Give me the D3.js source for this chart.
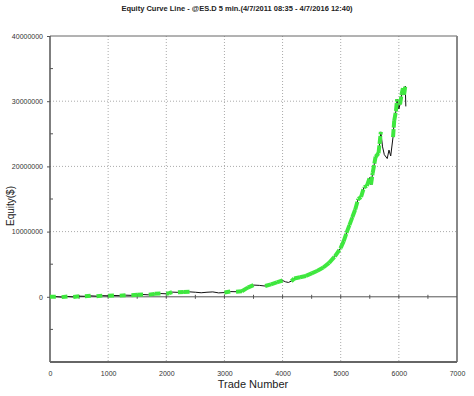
<!DOCTYPE html>
<html>
<head>
<meta charset="utf-8">
<script src="https://cdn.jsdelivr.net/npm/d3@7"></script>
<style>
body{margin:0;background:#fff}
text{font-family:Arial,"Liberation Sans",sans-serif}
</style>
</head>
<body>
<svg width="474" height="396"></svg>
<script>
var titleText = 'Equity Curve Line - @ES.D 5 min.(4/7/2011 08:35 - 4/7/2016 12:40)'
var xLabel = 'Trade Number'
var yLabel = 'Equity($)'

// trade number and equity (millions of $)
var trades = [0,100,200,300,400,500,600,700,800,900,1000,1100,1200,1300,1400,1500,1600,1700,1800,1900,
  2000,2050,2100,2200,2300,2400,2500,2600,2700,2800,2900,3000,3100,3200,3300,3400,3500,3600,3700,3800,3900,
  4000,4050,4100,4150,4200,4300,4400,4500,4600,4700,4800,4900,5000,5050,5100,5150,5200,5250,5300,5350,
  5400,5450,5500,5520,5550,5600,5650,5690,5720,5750,5800,5830,5860,5900,5920,5950,5970,6000,6020,6050,
  6070,6090,6110,6120]
var equity = [0,0.02,-0.05,0.05,-0.02,0.1,0.08,0.15,0.1,0.18,0.15,0.2,0.18,0.25,0.22,0.3,0.35,0.3,0.45,0.5,
  0.46,0.55,0.72,0.68,0.72,0.76,0.7,0.62,0.7,0.75,0.6,0.65,0.8,0.78,0.85,1.4,1.8,1.75,1.65,1.9,2.2,
  2.5,2.3,2.2,2.4,2.8,3.0,3.2,3.6,4.0,4.5,5.2,6.2,7.5,8.5,9.8,11.0,12.2,13.4,15.0,15.3,
  16.8,17.0,18.3,17.2,19.0,21.5,22.0,25.3,23.0,21.8,21.2,22.5,21.6,24.5,27.0,28.5,30.3,28.8,29.5,31.2,
  32.0,31.0,32.3,29.2]

var yTicks = [0,10000000,20000000,30000000,40000000]
var xTicks = [0,1000,2000,3000,4000,5000,6000,7000]

var svg = d3.select('svg')
var pl = 50, pr = 457, pt = 36, pb = 362

var x = d3.scaleLinear().domain([0,7000]).range([pl,pr])
var y = d3.scaleLinear().domain([-10000000,40000000]).range([pb,pt])

var data = trades.map(function(t,i){ return {t:t, v:equity[i]*1e6} })

// grid
svg.append('g').selectAll('line').data(xTicks.slice(1,-1)).enter().append('line')
  .attr('x1',function(d){return x(d)}).attr('x2',function(d){return x(d)})
  .attr('y1',pt).attr('y2',pb)
  .attr('stroke','#aaa').attr('stroke-dasharray','1,2')
svg.append('g').selectAll('line').data([10000000,20000000,30000000]).enter().append('line')
  .attr('y1',function(d){return y(d)}).attr('y2',function(d){return y(d)})
  .attr('x1',pl).attr('x2',pr)
  .attr('stroke','#aaa').attr('stroke-dasharray','1,2')

// frame
svg.append('line').attr('x1',pl).attr('x2',pr).attr('y1',pt).attr('y2',pt).attr('stroke','#666')
svg.append('line').attr('x1',pr).attr('x2',pr).attr('y1',pt).attr('y2',pb).attr('stroke','#888').attr('stroke-width',2)
svg.append('line').attr('x1',pl).attr('x2',pl).attr('y1',pt).attr('y2',pb)
  .attr('stroke','#555').attr('stroke-width',1.5)
svg.append('line').attr('x1',pl).attr('x2',pr).attr('y1',pb).attr('y2',pb)
  .attr('stroke','#666').attr('stroke-width',2)

// y axis
var yAxis = svg.append('g').attr('transform','translate('+pl+',0)')
  .call(d3.axisLeft(y).tickValues(yTicks).tickSize(3).tickFormat(d3.format('d')))
yAxis.select('.domain').remove()
yAxis.selectAll('line').attr('stroke','#555')
yAxis.selectAll('text').attr('font-size',7).attr('fill','#333').attr('dx',-1)
var minorY = d3.range(-5000000,40000000,10000000)
svg.append('g').selectAll('line').data(minorY).enter().append('line')
  .attr('x1',pl).attr('x2',pl+3).attr('y1',function(d){return y(d)}).attr('y2',function(d){return y(d)})
  .attr('stroke','#555')

// x axis labels at bottom
var xAxis = svg.append('g').attr('transform','translate(0,'+pb+')')
  .call(d3.axisBottom(x).tickValues(xTicks).tickSize(0).tickPadding(9).tickFormat(d3.format('d')))
xAxis.select('.domain').remove()
xAxis.selectAll('text').attr('font-size',7).attr('fill','#333')

// zero line with minor ticks
svg.append('line').attr('x1',pl).attr('x2',pr).attr('y1',y(0)).attr('y2',y(0))
  .attr('stroke','#555')
svg.append('g').selectAll('line').data(d3.range(500,7000,500)).enter().append('line')
  .attr('x1',function(d){return x(d)}).attr('x2',function(d){return x(d)})
  .attr('y1',y(0)-2).attr('y2',y(0)+2).attr('stroke','#555')

// black equity line, green on top where a new equity high is made
var line = d3.line().x(function(d){return x(d.t)}).y(function(d){return y(d.v)})
svg.append('path').datum(data).attr('d', line)
  .attr('fill','none').attr('stroke','#111').attr('stroke-width',1)

var runMax = -Infinity
var segs = []
data.forEach(function(d,i){
  if (d.v >= runMax) {
    if (i > 0) segs.push([data[i-1], d])
    runMax = d.v
  }
})
svg.append('g').selectAll('path').data(segs).enter().append('path')
  .attr('d', line)
  .attr('fill','none').attr('stroke','#3ee83e').attr('stroke-width',4)
  .attr('stroke-dasharray','8,1.5')

// titles
svg.append('text').attr('x',237).attr('y',11).attr('text-anchor','middle')
  .attr('font-size',7.5).attr('font-weight','bold').attr('fill','#222').text(titleText)
svg.append('text').attr('x',253).attr('y',388).attr('text-anchor','middle')
  .attr('font-size',11).attr('fill','#222').text(xLabel)
svg.append('text').attr('transform','translate(14,206) rotate(-90)').attr('text-anchor','middle')
  .attr('font-size',10).attr('fill','#222').text(yLabel)
</script>
</body>
</html>
